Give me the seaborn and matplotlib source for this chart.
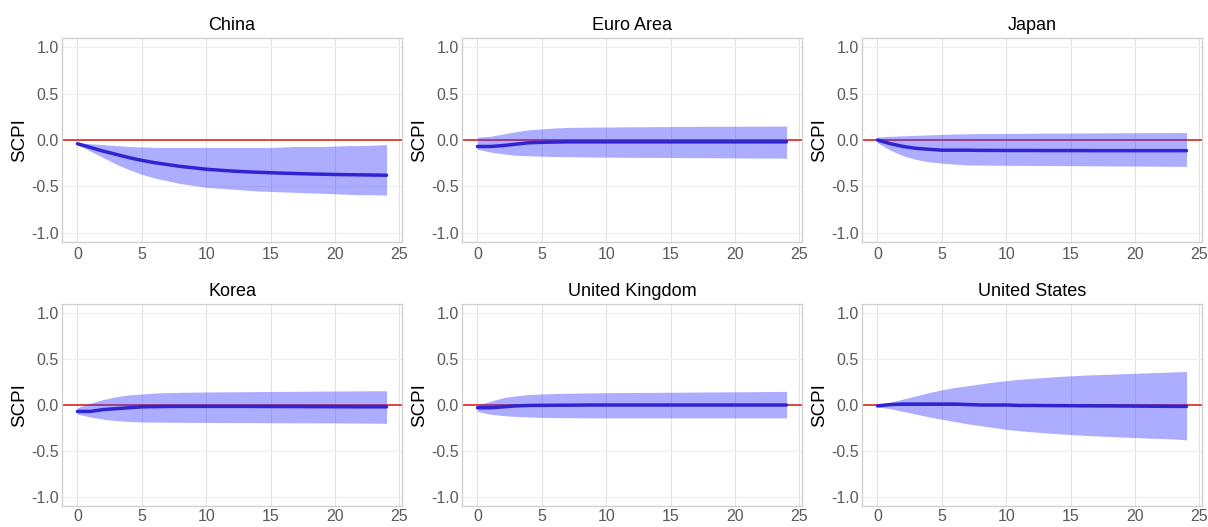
import numpy as np
import pandas as pd
import matplotlib
matplotlib.use("Agg")
import matplotlib.pyplot as plt
import seaborn as sns

horizon = list(range(25))

countries = ["China", "Euro Area", "Japan", "Korea", "United Kingdom", "United States"]

china_mean = [-0.04, -0.08, -0.12, -0.155, -0.19, -0.22, -0.245, -0.265, -0.285, -0.30, -0.315, -0.325, -0.335,
              -0.342, -0.348, -0.353, -0.358, -0.362, -0.366, -0.369, -0.372, -0.374, -0.376, -0.378, -0.38]
china_lower = [-0.05, -0.12, -0.19, -0.26, -0.32, -0.37, -0.41, -0.44, -0.47, -0.49, -0.51, -0.52, -0.53,
               -0.54, -0.55, -0.555, -0.56, -0.565, -0.57, -0.575, -0.58, -0.585, -0.59, -0.59, -0.595]
china_upper = [-0.03, -0.04, -0.05, -0.06, -0.07, -0.075, -0.08, -0.08, -0.08, -0.08, -0.08, -0.08, -0.08,
               -0.08, -0.08, -0.08, -0.075, -0.07, -0.07, -0.07, -0.065, -0.06, -0.06, -0.055, -0.05]

euro_mean = [-0.07, -0.07, -0.06, -0.045, -0.03, -0.025, -0.022, -0.02, -0.02, -0.02, -0.02, -0.02, -0.02,
             -0.02, -0.02, -0.02, -0.02, -0.02, -0.02, -0.02, -0.02, -0.02, -0.02, -0.02, -0.02]
euro_lower = [-0.10, -0.13, -0.15, -0.165, -0.17, -0.175, -0.178, -0.18, -0.182, -0.184, -0.185, -0.186, -0.187,
              -0.188, -0.188, -0.189, -0.19, -0.19, -0.191, -0.192, -0.193, -0.194, -0.195, -0.195, -0.196]
euro_upper = [0.03, 0.04, 0.065, 0.09, 0.11, 0.12, 0.13, 0.135, 0.137, 0.139, 0.14, 0.141, 0.142,
              0.143, 0.144, 0.145, 0.146, 0.147, 0.148, 0.148, 0.148, 0.149, 0.149, 0.15, 0.15]

japan_mean = [0.0, -0.04, -0.07, -0.09, -0.10, -0.11, -0.11, -0.11, -0.112, -0.112, -0.113, -0.113, -0.113,
              -0.114, -0.114, -0.114, -0.114, -0.115, -0.115, -0.115, -0.115, -0.115, -0.115, -0.115, -0.115]
japan_lower = [-0.03, -0.11, -0.17, -0.21, -0.235, -0.25, -0.26, -0.27, -0.27, -0.272, -0.273, -0.274, -0.275,
               -0.275, -0.276, -0.277, -0.278, -0.279, -0.28, -0.28, -0.281, -0.282, -0.283, -0.284, -0.285]
japan_upper = [0.03, 0.04, 0.045, 0.05, 0.055, 0.06, 0.065, 0.067, 0.069, 0.07, 0.071, 0.072, 0.073,
               0.074, 0.075, 0.075, 0.076, 0.077, 0.077, 0.078, 0.078, 0.079, 0.079, 0.08, 0.08]

korea_mean = [-0.07, -0.07, -0.05, -0.04, -0.03, -0.02, -0.018, -0.016, -0.015, -0.015, -0.015, -0.015, -0.015,
              -0.015, -0.016, -0.016, -0.017, -0.017, -0.018, -0.018, -0.019, -0.019, -0.02, -0.02, -0.02]
korea_lower = [-0.10, -0.13, -0.155, -0.17, -0.18, -0.185, -0.187, -0.188, -0.189, -0.19, -0.19, -0.191, -0.191,
               -0.192, -0.192, -0.193, -0.193, -0.194, -0.194, -0.195, -0.195, -0.196, -0.197, -0.198, -0.2]
korea_upper = [-0.03, 0.02, 0.06, 0.09, 0.11, 0.12, 0.13, 0.135, 0.138, 0.14, 0.142, 0.143, 0.144,
               0.145, 0.146, 0.147, 0.148, 0.149, 0.15, 0.151, 0.152, 0.153, 0.154, 0.155, 0.155]

uk_mean = [-0.03, -0.03, -0.02, -0.01, -0.005, -0.004, -0.003, -0.002, -0.001, 0.0, 0.0, 0.0, 0.0,
           0.0, 0.0, 0.0, 0.0, 0.0, 0.0, 0.0, 0.0, 0.0, 0.0, 0.0, 0.0]
uk_lower = [-0.07, -0.10, -0.115, -0.125, -0.13, -0.135, -0.137, -0.138, -0.139, -0.14, -0.14, -0.14, -0.14,
            -0.14, -0.14, -0.14, -0.14, -0.14, -0.14, -0.14, -0.14, -0.14, -0.14, -0.14, -0.14]
uk_upper = [0.0, 0.04, 0.08, 0.10, 0.115, 0.12, 0.125, 0.128, 0.13, 0.132, 0.134, 0.135, 0.136,
            0.137, 0.138, 0.139, 0.14, 0.141, 0.142, 0.143, 0.144, 0.145, 0.146, 0.147, 0.148]

us_mean = [-0.01, 0.005, 0.01, 0.01, 0.01, 0.01, 0.01, 0.005, 0.0, 0.0, 0.0, -0.005, -0.005,
           -0.006, -0.007, -0.008, -0.009, -0.01, -0.01, -0.011, -0.012, -0.013, -0.014, -0.015, -0.015]
us_lower = [-0.02, -0.04, -0.07, -0.10, -0.13, -0.155, -0.18, -0.205, -0.225, -0.245, -0.265, -0.28, -0.292,
            -0.303, -0.313, -0.322, -0.33, -0.337, -0.343, -0.349, -0.355, -0.36, -0.365, -0.37, -0.38]
us_upper = [0.0, 0.03, 0.065, 0.10, 0.135, 0.165, 0.19, 0.21, 0.23, 0.25, 0.265, 0.28, 0.29,
            0.30, 0.31, 0.318, 0.325, 0.33, 0.335, 0.34, 0.345, 0.35, 0.355, 0.36, 0.365]

means = [china_mean, euro_mean, japan_mean, korea_mean, uk_mean, us_mean]
lowers = [china_lower, euro_lower, japan_lower, korea_lower, uk_lower, us_lower]
uppers = [china_upper, euro_upper, japan_upper, korea_upper, uk_upper, us_upper]

x_ticks = [0, 5, 10, 15, 20, 25]
y_ticks = [-1.0, -0.5, 0.0, 0.5, 1.0]
y_tick_labels = ["-1.0", "-0.5", "0.0", "0.5", "1.0"]

sns.set_theme(style="whitegrid")
plt.rcParams["font.family"] = ["Liberation Sans", "DejaVu Sans"]

fig = plt.figure(figsize=(12.08, 5.27), dpi=100)

lefts = [62 / 1208, 462 / 1208, 862 / 1208]
width = 340 / 1208
bottoms = [1 - 242 / 527, 1 - 506 / 527]
heights = [204 / 527, 202 / 527]

for i, name in enumerate(countries):
    r, c = divmod(i, 3)
    ax = fig.add_axes([lefts[c], bottoms[r], width, heights[r]])
    df = pd.DataFrame({"h": horizon, "mean": means[i], "lo": lowers[i], "hi": uppers[i]})
    ax.axhline(0, color="#e03530", lw=1.3, zorder=2)
    ax.fill_between(df["h"], df["lo"], df["hi"], color="#3333ff", alpha=0.4, lw=0, zorder=3)
    sns.lineplot(data=df, x="h", y="mean", ax=ax, color="#2f24d0", lw=2.5, zorder=4)
    ax.set_xlim(-1.2, 25.2)
    ax.set_ylim(-1.1, 1.1)
    ax.set_xticks(x_ticks)
    ax.set_yticks(y_ticks)
    ax.set_yticklabels(y_tick_labels)
    ax.set_xlabel("")
    ax.set_ylabel("SCPI", fontsize=13.5, color="black", labelpad=2)
    ax.set_title(name, fontsize=13, color="black", pad=6)
    ax.tick_params(axis="both", labelsize=11.5, colors="#5a5a5a", length=0)
    ax.tick_params(axis="x", pad=3.5 if r == 0 else 2.5)
    ax.tick_params(axis="y", pad=2.5)
    ax.set_facecolor("white")
    ax.grid(True, which="major", axis="x", color="#e3e3e3", lw=0.8)
    ax.grid(True, which="major", axis="y", color="#eeeeee", lw=0.8)
    for s in ax.spines.values():
        s.set_visible(True)
        s.set_color("#cfcfcf")
        s.set_linewidth(0.9)

fig.savefig("out.png", dpi=100, facecolor="white")
